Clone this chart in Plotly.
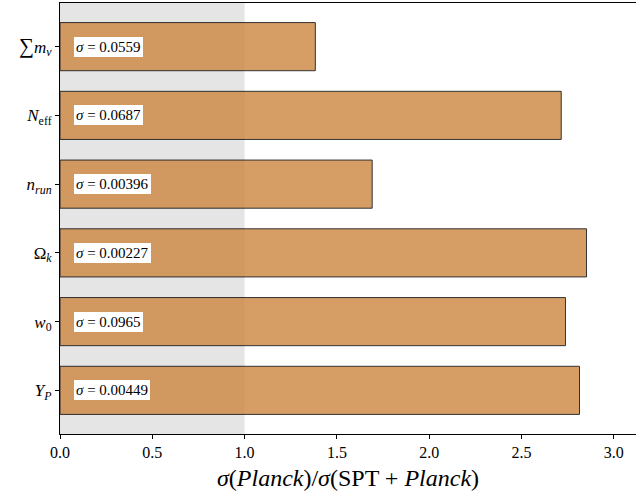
import plotly.graph_objects as go

params = ["<span style=\"font-size:21px\">∑</span><i>m</i><sub><i>ν</i></sub>", "<i>N</i><sub>eff</sub>", "<i>n</i><sub><i>run</i></sub>",
          "Ω<sub><i>k</i></sub>", "<i>w</i><sub>0</sub>", "<i>Y</i><sub><i>P</i></sub>"]
ratios = [1.383, 2.715, 1.691, 2.852, 2.738, 2.814]
sigmas = ["0.0559", "0.0687", "0.00396", "0.00227", "0.0965", "0.00449"]
xticks = [0.0, 0.5, 1.0, 1.5, 2.0, 2.5, 3.0]

SERIF = "Liberation Serif, Times New Roman, serif"

fig = go.Figure()
fig.add_trace(go.Bar(
    x=ratios, y=params, orientation="h", width=0.7,
    marker=dict(color="peru", opacity=0.8, line=dict(color="black", width=1)),
    showlegend=False, hoverinfo="skip",
))

fig.add_shape(type="rect", xref="x", yref="paper", x0=0, x1=1, y0=0, y1=1,
              fillcolor="#e5e5e5", line=dict(width=0), layer="below")

for p, s in zip(params, sigmas):
    fig.add_annotation(x=0.078, y=p, xref="x", yref="y", xanchor="left", yanchor="middle",
                       text=f"<i>σ</i> = {s}", showarrow=False,
                       font=dict(family=SERIF, size=15, color="black"),
                       bgcolor="white", borderpad=1, bordercolor="white", borderwidth=1)

fig.update_layout(
    width=636, height=493,
    margin=dict(l=60, r=0, t=3, b=59, autoexpand=False),
    plot_bgcolor="white", paper_bgcolor="white",
    font=dict(family=SERIF, color="black"),
    bargap=0.3,
)
fig.update_xaxes(
    range=[0, 3.12], tickvals=xticks, ticktext=[f"{v:.1f}" for v in xticks],
    ticks="outside", ticklen=4, tickwidth=1, tickcolor="black",
    showline=True, linecolor="black", linewidth=1, mirror=True,
    showgrid=False, zeroline=False, automargin=False,
    tickfont=dict(family=SERIF, size=16),
    title=dict(text="<i>σ</i>(<i>Planck</i>)/<i>σ</i>(SPT + <i>Planck</i>)",
               font=dict(family=SERIF, size=24), standoff=8),
)
fig.update_yaxes(
    categoryorder="array", categoryarray=params[::-1],
    range=[-0.635, 5.635],
    ticks="outside", ticklen=4, tickwidth=1, tickcolor="black",
    showline=True, linecolor="black", linewidth=1, mirror=False,
    showgrid=False, zeroline=False, automargin=False,
    tickfont=dict(family=SERIF, size=17),
)

fig.write_html("out.html", config={"displayModeBar": False},
               post_script="document.body.style.margin='0';document.body.style.overflow='hidden';")
